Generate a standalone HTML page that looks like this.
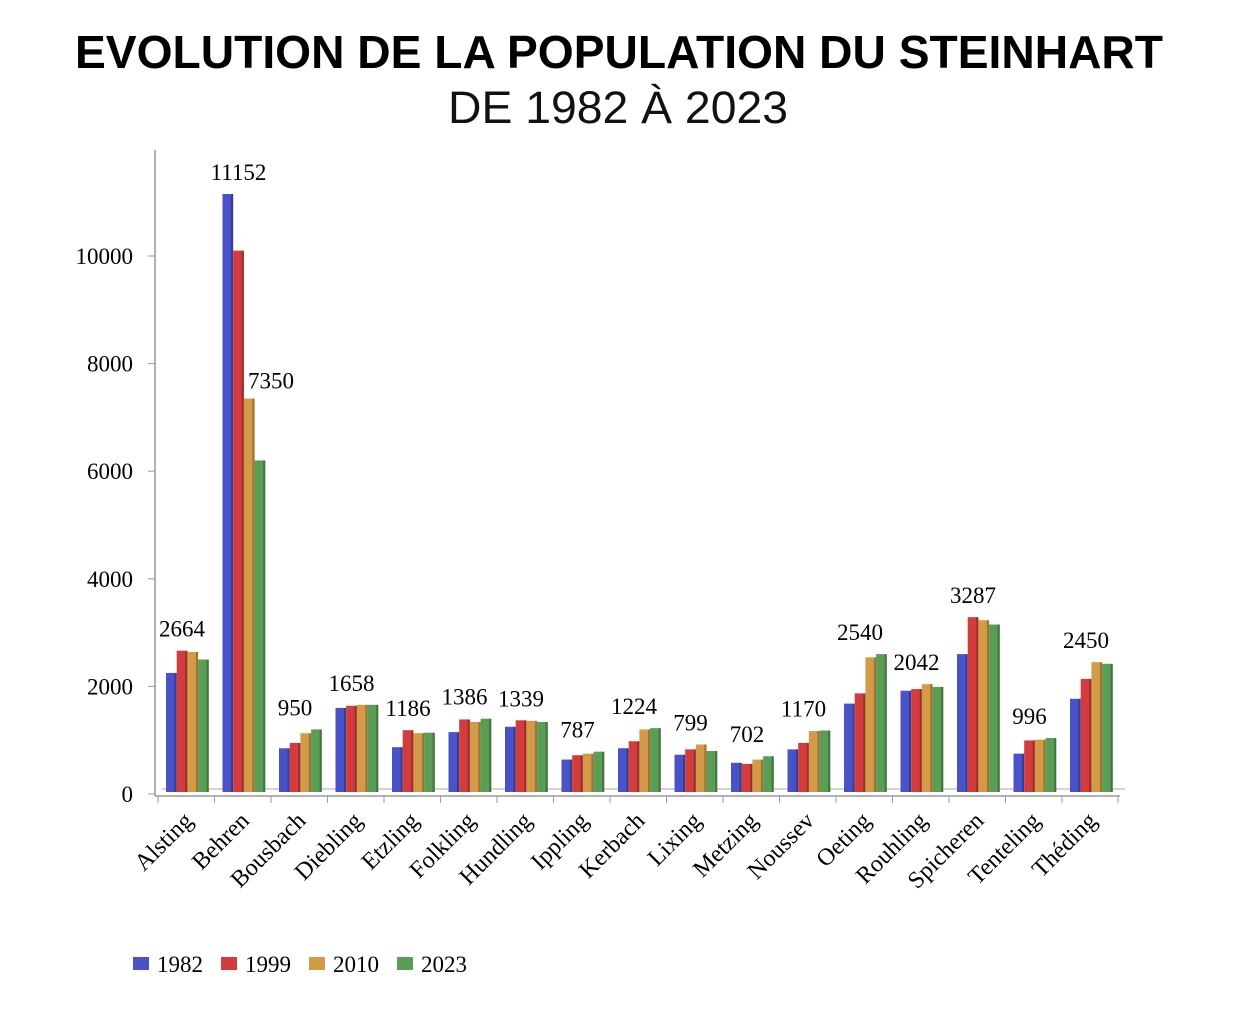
<!DOCTYPE html>
<html><head><meta charset="utf-8"><style>
body{margin:0;background:#fff;width:1240px;height:1015px;overflow:hidden}
</style></head><body>
<svg width="1240" height="1015" id="c">
<text x="619" y="68" text-anchor="middle" font-family="Liberation Sans, sans-serif" font-weight="bold" font-size="46" textLength="1088" lengthAdjust="spacingAndGlyphs">EVOLUTION DE LA POPULATION DU STEINHART</text>
<text x="618" y="123" text-anchor="middle" font-family="Liberation Sans, sans-serif" font-size="45" fill="#111" textLength="340" lengthAdjust="spacingAndGlyphs">DE 1982 À 2023</text>
</svg>
<script>
const categories=["Alsting","Behren","Bousbach","Diebling","Etzling","Folkling","Hundling","Ippling","Kerbach","Lixing","Metzing","Noussev","Oeting","Rouhling","Spicheren","Tenteling","Théding"];
const s1982=[2250,11152,850,1600,870,1150,1250,640,850,730,580,830,1680,1920,2600,750,1770];
const s1999=[2664,10100,950,1640,1186,1386,1370,720,980,830,560,950,1870,1950,3287,996,2140];
const s2010=[2640,7350,1130,1658,1130,1340,1360,750,1200,920,640,1170,2540,2042,3230,1010,2450];
const s2023=[2500,6200,1200,1658,1140,1400,1339,787,1224,799,702,1180,2600,1990,3150,1040,2420];
const labels=[2664,11152,950,1658,1186,1386,1339,787,1224,799,702,1170,2540,2042,3287,996,2450];
const yTicks=[0,2000,4000,6000,8000,10000];
const seriesNames=["1982","1999","2010","2023"];
const colors=["#4a52c8","#d23c3c","#d39a48","#5a9e55"];
const NS="http://www.w3.org/2000/svg",svg=document.getElementById('c');
const y=v=>794-v*0.0538, gx=i=>158+i*56.5;
function mk(t,a,p){const e=document.createElementNS(NS,t);for(const k in a)e.setAttribute(k,a[k]);(p||svg).appendChild(e);return e;}
const ax=mk('line',{x1:155,y1:150,x2:155,y2:796,stroke:'#999','stroke-width':1.5});


const bx=mk('line',{x1:155,y1:796,x2:1120,y2:796,stroke:'#999','stroke-width':1.5});


mk('line',{x1:162,y1:789,x2:1125,y2:789,stroke:'#bbb','stroke-width':1.2});
yTicks.forEach(v=>{
  mk('line',{x1:148,y1:y(v),x2:155,y2:y(v),stroke:'#999'});
  const t=mk('text',{x:133,y:y(v)+8,'text-anchor':'end','font-family':'Liberation Serif, serif','font-size':23});
  t.textContent=v;
  
  
});
const series=[s1982,s1999,s2010,s2023];
categories.forEach((c,i)=>{
  mk('line',{x1:gx(i),y1:796,x2:gx(i),y2:803,stroke:'#999'});
  series.forEach((s,j)=>{
    const x=gx(i)+8+j*10.7, top=y(s[i]);
    const r=mk('rect',{x:x,y:top,width:10.7,height:792-top,fill:colors[j]});
    
    
    mk('rect',{x:x+8.5,y:top,width:2.2,height:792-top,fill:'rgba(0,0,0,0.25)'});
  });
  const mx=Math.max(s1982[i],s1999[i],s2010[i],s2023[i]);
  const lv=mk('text',{x:gx(i)+24,y:y(mx)-14,'text-anchor':'middle','font-family':'Liberation Serif, serif','font-size':23});
  lv.textContent=labels[i];
  
  
  const cx=gx(i)+36;
  const t=mk('text',{x:cx,y:822,'text-anchor':'end','font-family':'Liberation Serif, serif','font-size':24,transform:`rotate(-45 ${cx} 822)`});
  t.textContent=c;
  
  
});
mk('line',{x1:1118,y1:796,x2:1118,y2:803,stroke:'#999'});
const lb=mk('text',{x:271,y:y(s2010[1])-10,'text-anchor':'middle','font-family':'Liberation Serif, serif','font-size':23});
lb.textContent=s2010[1];


seriesNames.forEach((n,j)=>{
  const x=133+j*88;
  const r=mk('rect',{x:x,y:957,width:16,height:13,fill:colors[j]});
  
  
  const t=mk('text',{x:x+24,y:972,'font-family':'Liberation Serif, serif','font-size':23});
  t.textContent=n;
  
  
});
</script>
</body></html>
